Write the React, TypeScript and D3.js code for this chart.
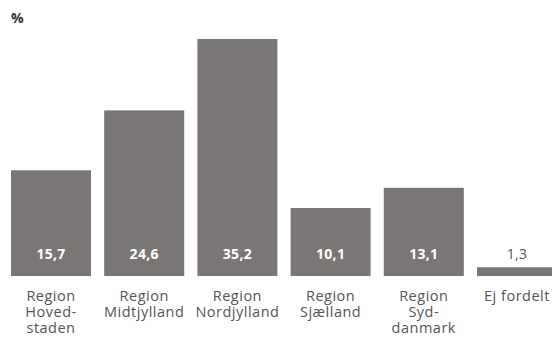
import React from "react";
import * as d3 from "d3";

const categories: string[][] = [
  ["Region", "Hoved-", "staden"],
  ["Region", "Midtjylland"],
  ["Region", "Nordjylland"],
  ["Region", "Sjælland"],
  ["Region", "Syd-", "danmark"],
  ["Ej fordelt"],
];
const values: number[] = [15.7, 24.6, 35.2, 10.1, 13.1, 1.3];
const valueLabels: string[] = ["15,7", "24,6", "35,2", "10,1", "13,1", "1,3"];
const unitLabel = "%";

const W = 552;
const H = 341;
const BAR = "#7a7676";
const TEXT = "#555555";
const FONT = "'Open Sans', 'Noto Sans', sans-serif";

export default function App() {
  const baseline = 276;
  const x = d3
    .scalePoint<number>()
    .domain(d3.range(values.length))
    .range([11, 477]);
  const barW = 80;
  const y = d3.scaleLinear().domain([0, 35.2]).range([baseline, 39]);

  return (
    <svg
      width={W}
      height={H}
      style={{ position: "absolute", left: 0, top: 0, background: "#fff" }}
    >
      <text x={11} y={23} fontFamily={FONT} fontSize={14} fontWeight={700} fill="#333">
        {unitLabel}
      </text>
      {values.map((v, i) => {
        const x0 = x(i)!;
        const top = y(v);
        const h = baseline - top;
        const inside = h > 30;
        const cx = x0 + barW / 2;
        return (
          <g key={i}>
            <rect x={x0} y={top} width={barW} height={h} fill={BAR} />
            <text
              x={cx}
              y={259}
              textAnchor="middle"
              fontFamily={FONT}
              fontSize={14}
              letterSpacing={0.3}
              fontWeight={inside ? 700 : 400}
              fill={inside ? "#fff" : TEXT}
            >
              {valueLabels[i]}
            </text>
            <text
              x={cx}
              y={301}
              textAnchor="middle"
              fontFamily={FONT}
              fontSize={14.5}
              letterSpacing={0.5}
              fill={TEXT}
            >
              {categories[i].map((line, j) => (
                <tspan key={j} x={cx} dy={j === 0 ? 0 : 16}>
                  {line}
                </tspan>
              ))}
            </text>
          </g>
        );
      })}
    </svg>
  );
}
